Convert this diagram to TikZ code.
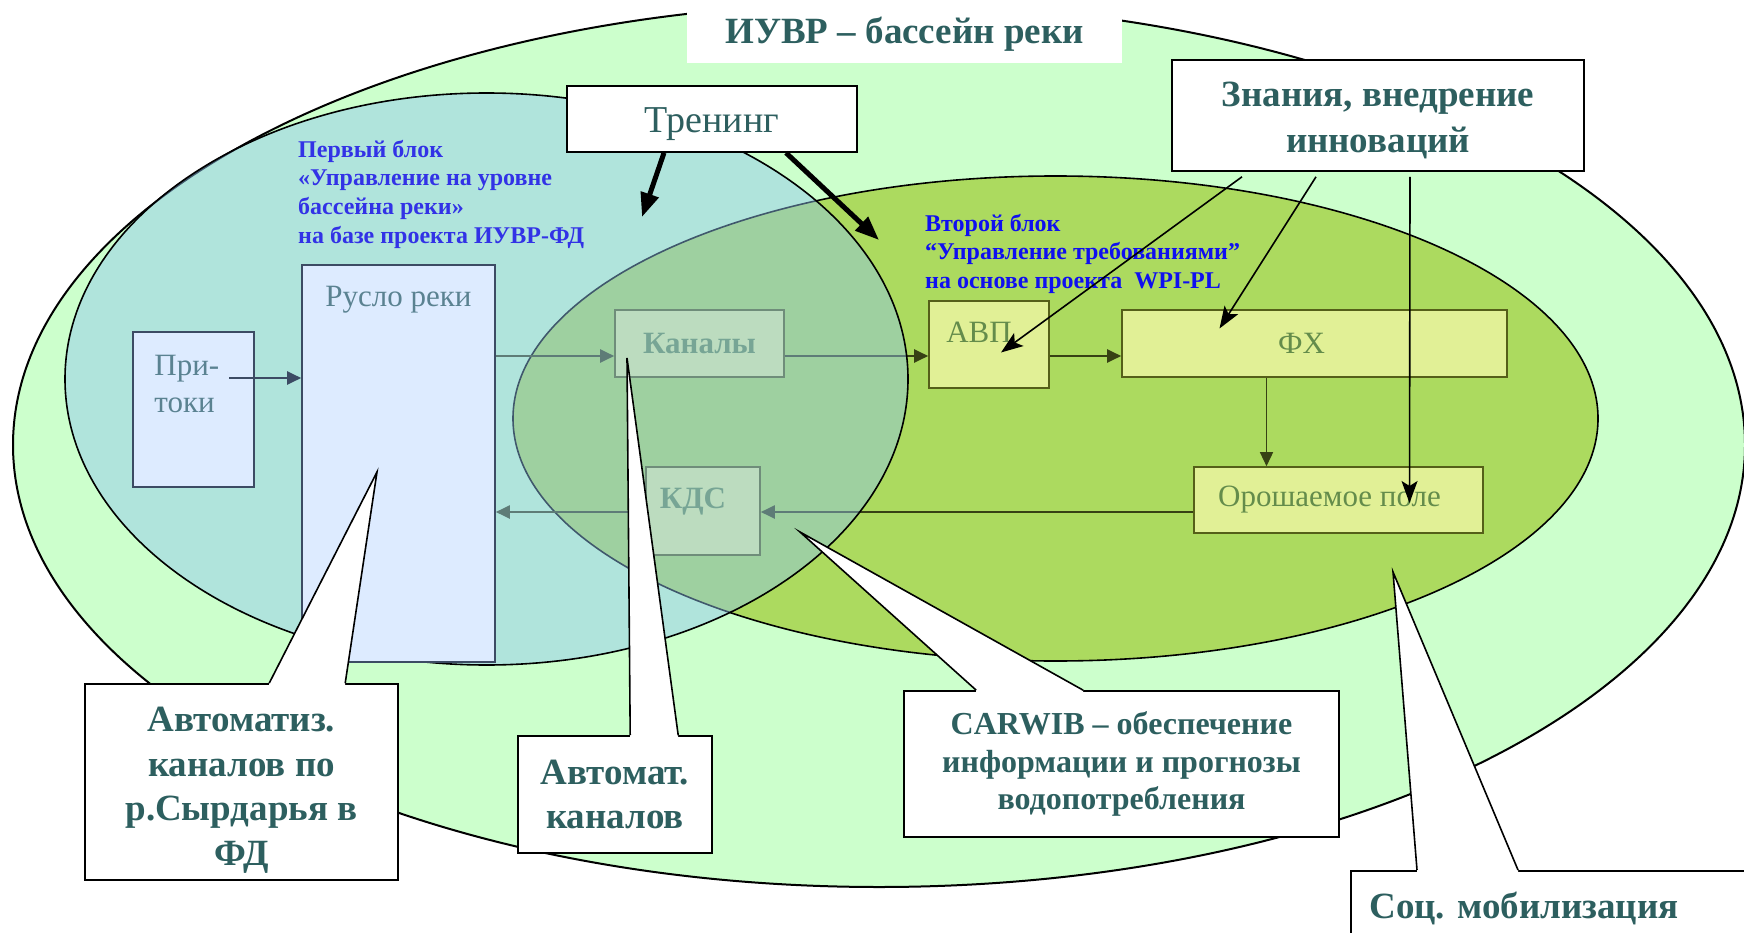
\documentclass[tikz,border=0pt]{standalone}
\usepackage{fontspec}
\setmainfont{Liberation Serif}
\usetikzlibrary{arrows.meta,positioning,calc}

\definecolor{basin}{RGB}{204,255,204}
\definecolor{demand}{RGB}{172,218,95}
\definecolor{river}{RGB}{143,197,241}
\definecolor{boxfill}{RGB}{225,240,150}
\definecolor{boxline}{RGB}{85,95,25}
\definecolor{boxtext}{RGB}{100,140,75}
\definecolor{chanfill}{RGB}{221,235,255}
\definecolor{chanline}{RGB}{60,75,100}
\definecolor{chantext}{RGB}{90,130,145}
\definecolor{flowline}{RGB}{55,65,20}
\definecolor{calltext}{RGB}{45,95,95}
\definecolor{blockblue}{RGB}{50,50,230}
\definecolor{blockblueb}{RGB}{15,15,240}

\pgfdeclarelayer{base}
\pgfdeclarelayer{flows}
\pgfdeclarelayer{tint}
\pgfsetlayers{base,flows,tint,main}

\tikzset{
	unit/.style={draw=boxline, line width=1.6pt, fill=boxfill, inner sep=0pt,
		text=boxtext, font=\fontsize{31}{37}\selectfont},
	unitlabel/.style={text=boxtext, inner sep=0pt, font=\fontsize{31}{37}\selectfont},
	chan/.style={draw=chanline, line width=1.6pt, fill=chanfill, inner sep=0pt},
	chanlabel/.style={text=chantext, inner sep=0pt, align=left, font=\fontsize{31}{37}\selectfont},
	flow/.style={draw=flowline, line width=2pt, -{Triangle[length=14pt,width=13pt]}},
	callout/.style={draw, line width=1.6pt, fill=white, inner sep=0pt, align=center,
		text=calltext, font=\bfseries\fontsize{37}{44.5}\selectfont},
	calllabel/.style={inner sep=0pt, align=center, text=calltext,
		font=\bfseries\fontsize{37}{44.5}\selectfont},
	blocktext/.style={anchor=north west, align=left, inner sep=0pt,
		font=\bfseries\fontsize{24}{28.6}\selectfont},
	hint/.style={line width=1.6pt, -{Stealth[length=22pt,width=16pt,inset=5pt]}},
	push/.style={line width=5pt, -{Triangle[length=24pt,width=18pt]}}
}

% node, left and right end of the pointer on the top edge, tip
\newcommand{\calloutwedge}[4]{%
	\fill[white] ([xshift=#2pt]#1.north west) -- (#4) -- ([xshift=#3pt]#1.north west)
		-- ([xshift=#3pt,yshift=-3pt]#1.north west) -- ([xshift=#2pt,yshift=-3pt]#1.north west) -- cycle;
	\draw[line width=1.6pt] ([xshift=#2pt]#1.north west) -- (#4) -- ([xshift=#3pt]#1.north west);
}

\begin{document}
\begin{tikzpicture}[x=1pt,y=-1pt]
	\useasboundingbox (0,0) rectangle (1744,933);
	\clip (0,0) rectangle (1744,933);

	\begin{pgfonlayer}{base}
		\filldraw[fill=basin, line width=2pt] (879,445) ellipse [x radius=866pt, y radius=442pt];
		\filldraw[fill=demand, line width=1.6pt] (1055.5,418.5) ellipse [x radius=542.5pt, y radius=242.5pt];
	\end{pgfonlayer}

	\node[chan, minimum width=193pt, minimum height=397pt] (ruslo) at (398.5,463.5) {};
	\node[chan, minimum width=121pt, minimum height=155pt] (pritoki) at (193.5,409.5) {};
	\coordinate (rowA) at (0,356);
	\coordinate (rowB) at (0,512);

	\begin{pgfonlayer}{flows}
		\node[unit, font=\bfseries\fontsize{31}{37}\selectfont, minimum width=169pt, minimum height=67pt] (kanaly) at (699.5,343.5) {Каналы};
		\node[unit, minimum width=114pt, minimum height=88pt] (kds) at (703,511) {};
		\node[unitlabel, font=\bfseries\fontsize{31}{37}\selectfont] (kdsLabel) at ([xshift=-10pt,yshift=9pt]kds.center) {КДС};
		\node[unit, minimum width=120pt, minimum height=87pt] (avp) at (989,344.5) {};
		\node[unitlabel] (avpLabel) at ([xshift=-10pt,yshift=12pt]avp.center) {АВП};
		\node[unit, minimum width=385pt, minimum height=67pt] (fx) at (1314.5,343.5) {};
		\node[unitlabel] (fxLabel) at ([xshift=-13pt]fx.center) {ФХ};
		\node[unit, minimum width=289pt, minimum height=66pt] (field) at (1338.5,500) {};
		\node[unitlabel] (fieldLabel) at ([xshift=-9pt]field.center) {Орошаемое поле};

		\draw[flow] (ruslo.east |- rowA) -- (kanaly.west |- rowA);
		\draw[flow] (kanaly.east |- rowA) -- (avp.west |- rowA);
		\draw[flow] (avp.east |- rowA) -- (fx.west |- rowA);
		\draw[flow, line width=1.5pt] ([xshift=-48pt]fx.south) -- ([xshift=-48pt]fx.south |- field.north);
		\draw[flow] (field.west |- rowB) -- (kds.east |- rowB);
		\draw[flow] (kds.west |- rowB) -- (ruslo.east |- rowB);
	\end{pgfonlayer}

	\begin{pgfonlayer}{tint}
		\filldraw[fill=river, fill opacity=0.45, line width=1.6pt] (486.5,379) ellipse [x radius=421.5pt, y radius=286pt];
	\end{pgfonlayer}

	\node[chanlabel, below=22pt of ruslo.north] (rusloLabel) {Русло реки};
	\node[chanlabel, anchor=north west] (pritokiLabel) at ([xshift=22pt,yshift=-24pt]pritoki.north west) {При-\\токи};
	\coordinate (pritokiOut) at (229,378);
	\draw[flow, draw=chanline] (pritokiOut) -- (pritokiOut -| ruslo.west);

	\node[blocktext, text=blockblue] (blockOne) at (298,140)
		{Первый блок\\«Управление на уровне\\бассейна реки»\\на базе проекта ИУВР-ФД};
	\node[blocktext, text=blockblueb] (blockTwo) at (925,214)
		{Второй блок\\“Управление требованиями”\\на основе проекта\ \ WPI-PL};

	\node[callout, minimum width=290pt, minimum height=66pt] (trening) at (712,119) {};
	\node[calllabel, font=\fontsize{38}{44}\selectfont] (treningLabel) at ([yshift=-5pt]trening.center) {Тренинг};
	\coordinate (treningA) at (642,217);
	\coordinate (treningB) at (879,240);
	\draw[push] ([xshift=-48pt]trening.south) -- (treningA);
	\draw[push] ([xshift=74pt]trening.south) -- (treningB);

	\node[callout, minimum width=412pt, minimum height=111pt] (znania) at (1378,115.5) {};
	\node[calllabel, font=\bfseries\fontsize{37}{46}\selectfont] (znaniaLabel) at ([yshift=-5pt]znania.center)
		{Знания, внедрение\\инноваций};
	\draw[hint] ([xshift=-136pt,yshift=-5pt]znania.south) -- ([xshift=12pt,yshift=-8pt]avp.center);
	\draw[hint] ([xshift=-62pt,yshift=-5pt]znania.south) -- ([xshift=-95pt,yshift=15pt]fx.center);
	\draw[hint] ([xshift=32pt,yshift=-5pt]znania.south) -- ([xshift=71pt,yshift=-3pt]field.center);

	\node[callout, minimum width=313pt, minimum height=196pt] (autoFD) at (241.5,782) {};
	\node[calllabel] (autoFDLabel) at ([yshift=-8pt]autoFD.center) {Автоматиз.\\каналов по\\р.Сырдарья в\\ФД};
	\coordinate (tipFD) at (377,472);
	\calloutwedge{autoFD}{185}{261}{tipFD}

	\node[callout, minimum width=194pt, minimum height=117pt] (autoKan) at (615,794.5) {Автомат.\\каналов};
	\coordinate (tipKan) at (627,358);
	\calloutwedge{autoKan}{113}{161}{tipKan}

	\node[callout, font=\bfseries\fontsize{32}{37.5}\selectfont, minimum width=435pt, minimum height=146pt] (carwib) at (1121.5,764)
		{CARWIB – обеспечение\\информации и прогнозы\\водопотребления};
	\coordinate (tipCarwib) at (800,532);
	\calloutwedge{carwib}{73}{180}{tipCarwib}

	\node[callout, anchor=north west, minimum width=450pt, minimum height=130pt] (socmob) at (1350,870) {};
	\node[calllabel, anchor=base] (socmobText) at (1524,918) {Соц. мобилизация};
	\coordinate (tipSoc) at (1393,572);
	\calloutwedge{socmob}{67}{168}{tipSoc}

	\node[fill=white, inner sep=0pt, minimum width=435pt, minimum height=68pt] (title) at (904.5,29.5) {};
	\node[calllabel] (titleLabel) at ([yshift=-5pt]title.center) {ИУВР – бассейн реки};
\end{tikzpicture}
\end{document}
